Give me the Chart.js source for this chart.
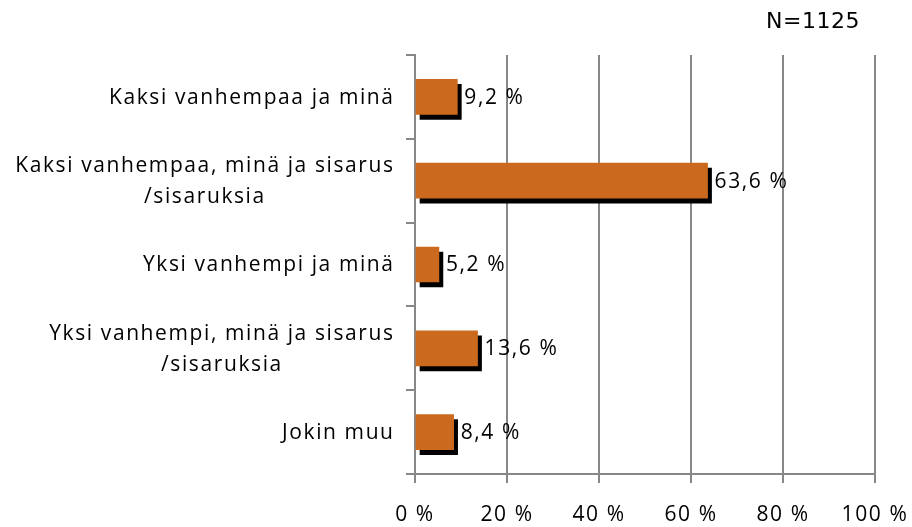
<!DOCTYPE html>
<html>
<head>
<meta charset="utf-8">
<script src="https://cdn.jsdelivr.net/npm/chart.js@4"></script>
<style>
  html, body { margin: 0; padding: 0; background: #fff; }
  #wrap { width: 912px; height: 527px; }
</style>
</head>
<body>
<div id="wrap"><canvas id="chart0"></canvas></div>
<script>
// data
let categories =
[
  ['Kaksi vanhempaa ja minä'],
  ['Kaksi vanhempaa, minä ja sisarus', '/sisaruksia'],
  ['Yksi vanhempi ja minä'],
  ['Yksi vanhempi, minä ja sisarus', '/sisaruksia'],
  ['Jokin muu']
];
let values = [9.2, 63.6, 5.2, 13.6, 8.4];
let xTicks = [0, 20, 40, 60, 80, 100];
let note = 'N=1125';

let font = 'Open Sans';
let spacing = 1.6;
let gridColor = '#878787';
let barColor = '#CB6A1E';

function pct(v)
{
  return String(v).replace('.', ',') + ' %';
}

// {{{ letter spacing for every text the chart draws
let spaced =
{
  id: 'spaced',
  beforeDraw(chart)
  {
    chart.ctx.letterSpacing = spacing + 'px';
  }
};
// }}}

// {{{ shadow under the bars
let barShadow =
{
  id: 'barShadow',
  beforeDatasetsDraw(chart)
  {
    let ctx = chart.ctx;
    ctx.save();
    ctx.shadowColor = '#000';
    ctx.shadowBlur = 0;
    ctx.shadowOffsetX = 4;
    ctx.shadowOffsetY = 5;
  },
  afterDatasetsDraw(chart)
  {
    chart.ctx.restore();
  }
};
// }}}

// {{{ texts: category labels, value labels, N
let texts =
{
  id: 'texts',
  afterDraw(chart)
  {
    let ctx = chart.ctx;
    let y = chart.scales.y;
    let meta = chart.getDatasetMeta(0);
    ctx.save();
    ctx.letterSpacing = spacing + 'px';
    ctx.fillStyle = '#000';
    ctx.textBaseline = 'middle';
    ctx.font = '21px "' + font + '"';
    let right = chart.chartArea.left - 22 + spacing;
    let lh = 31;
    for (let i = 0; i < categories.length; i++)
    {
      let lines = categories[i];
      let w = 0;
      for (let j = 0; j < lines.length; j++)
      {
        w = Math.max(w, ctx.measureText(lines[j]).width);
      }
      let cy = y.getPixelForTick(i) + 1;
      let top = cy - (lines.length - 1) * lh / 2;
      ctx.textAlign = 'center';
      for (let j = 0; j < lines.length; j++)
      {
        ctx.fillText(lines[j], right - w / 2, top + j * lh);
      }
    }
    ctx.textAlign = 'left';
    for (let i = 0; i < values.length; i++)
    {
      let bar = meta.data[i];
      ctx.fillText(pct(values[i]), bar.x + 7, bar.y + 1);
    }
    ctx.letterSpacing = '0.5px';
    ctx.font = '22px "DejaVu Sans"';
    ctx.textAlign = 'right';
    ctx.fillText(note, chart.chartArea.right - 15, 22);
    ctx.restore();
  }
};
// }}}

const ctx0 = document.getElementById('chart0');
new Chart(ctx0,
{
  type: 'bar',
  data:
  {
    labels: categories,
    datasets:
    [
      {
        data: values,
        backgroundColor: barColor,
        borderWidth: 0,
        barThickness: 35
      }
    ]
  },
  options:
  {
    indexAxis: 'y',
    responsive: true,
    maintainAspectRatio: false,
    animation: false,
    events: [],
    layout: {padding: {top: 55, right: 37, left: 0, bottom: 0}},
    plugins: {legend: {display: false}, tooltip: {enabled: false}},
    scales:
    {
      x:
      {
        min: 0,
        max: 100,
        afterBuildTicks: (scale) => { scale.ticks = xTicks.map((v) => ({value: v})); },
        afterFit: (scale) =>
        {
          scale.height = 53;
          scale.paddingLeft = 0;
          scale.paddingRight = 0;
        },
        grid: {color: gridColor, lineWidth: 2, tickLength: 9},
        border: {color: gridColor, width: 2},
        ticks: {color: '#000', font: {family: font, size: 21}, padding: 19, callback: (v) => v + ' %'}
      },
      y:
      {
        afterFit: (scale) => { scale.width = 415; },
        grid: {color: gridColor, lineWidth: 2, tickLength: 9, drawOnChartArea: false, offset: true},
        border: {color: gridColor, width: 2},
        ticks: {color: 'rgba(0,0,0,0)', font: {family: font, size: 19}}
      }
    }
  },
  plugins: [spaced, barShadow, texts]
});
</script>
</body>
</html>
